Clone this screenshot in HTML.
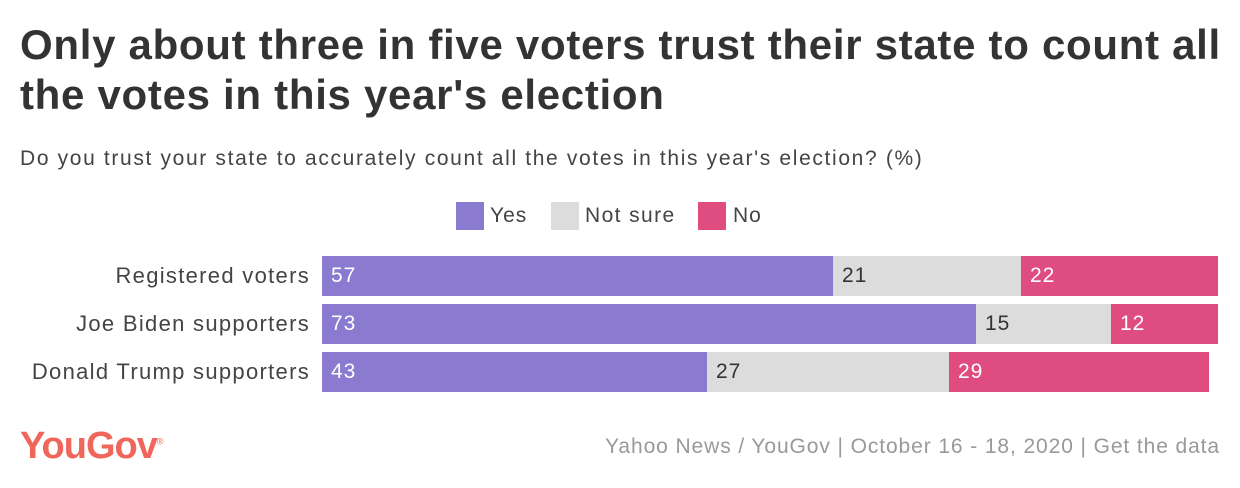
<!DOCTYPE html>
<html><head><meta charset="utf-8"><style>
body{margin:0;width:1240px;height:488px;background:#fff;font-family:"Liberation Sans",sans-serif;position:relative;overflow:hidden;color:#333}
.a{position:absolute;white-space:nowrap}
h1{position:absolute;left:20px;top:20px;margin:0;font-size:42px;line-height:50px;font-weight:bold;color:#333;letter-spacing:0.7px;white-space:nowrap}
.lab{position:absolute;right:930px;font-size:22px;color:#444;line-height:40px;letter-spacing:1.3px}
.bar{position:absolute;height:40px;line-height:40px;font-size:21px;box-sizing:border-box;padding-left:9px;letter-spacing:1px}
.y{background:#8a7bd1;color:#fff}.n{background:#dcdcdc;color:#333}.r{background:#de4c80;color:#fff}
.sw{position:absolute;width:28px;height:28px;top:202px}
</style></head><body>
<h1>Only about three in five voters trust their state to count all<br>the votes in this year's election</h1>
<div class="a" style="left:20px;top:147px;font-size:21px;color:#444;letter-spacing:1.65px">Do you trust your state to accurately count all the votes in this year's election? (%)</div>
<div class="sw" style="left:456px;background:#8a7bd1"></div>
<div class="a" style="left:490px;top:202px;font-size:21px;color:#444;line-height:28px;letter-spacing:1px">Yes</div>
<div class="sw" style="left:551px;background:#dcdcdc"></div>
<div class="a" style="left:585px;top:202px;font-size:21px;color:#444;line-height:28px;letter-spacing:1.4px">Not sure</div>
<div class="sw" style="left:698px;background:#de4c80"></div>
<div class="a" style="left:733px;top:202px;font-size:21px;color:#444;line-height:28px;letter-spacing:1px">No</div>
<div class="lab" style="top:256px">Registered voters</div>
<div class="lab" style="top:304px">Joe Biden supporters</div>
<div class="lab" style="top:352px">Donald Trump supporters</div>
<div class="bar y" style="left:322px;top:256px;width:511px">57</div>
<div class="bar n" style="left:833px;top:256px;width:188px">21</div>
<div class="bar r" style="left:1021px;top:256px;width:197px">22</div>
<div class="bar y" style="left:322px;top:304px;width:654px">73</div>
<div class="bar n" style="left:976px;top:304px;width:135px">15</div>
<div class="bar r" style="left:1111px;top:304px;width:107px">12</div>
<div class="bar y" style="left:322px;top:352px;width:385px">43</div>
<div class="bar n" style="left:707px;top:352px;width:242px">27</div>
<div class="bar r" style="left:949px;top:352px;width:260px">29</div>
<div class="a" style="left:20px;top:425px;font-size:38px;font-weight:bold;color:#f0665a;letter-spacing:-1px">YouGov<sup style="font-size:9px;font-weight:normal">®</sup></div>
<div class="a" style="right:20px;top:435px;font-size:21px;color:#999;letter-spacing:0.9px">Yahoo News / YouGov | October 16 - 18, 2020 | Get the data</div>
</body></html>
